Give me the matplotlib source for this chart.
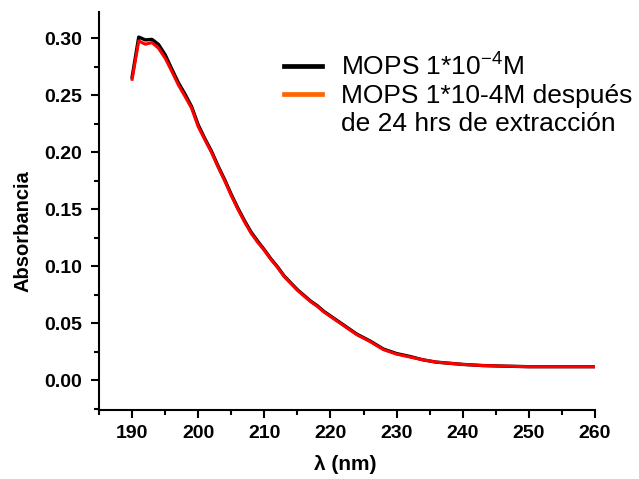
import matplotlib
matplotlib.use("Agg")
import matplotlib.pyplot as plt
from matplotlib.lines import Line2D
from matplotlib.ticker import MultipleLocator

# wavelength (nm)
wl = [190, 191, 192, 193, 194, 195, 196, 197, 198, 199, 200, 201, 202, 203,
      204, 205, 206, 207, 208, 209, 210, 211, 212, 213, 214, 215, 216, 217,
      218, 219, 220, 221, 222, 223, 224, 226, 228, 230, 232, 234, 236, 238,
      240, 243, 246, 250, 255, 260]

# MOPS 1e-4 M
abs_mops = [0.266, 0.301, 0.2985, 0.299, 0.2945, 0.2855, 0.273, 0.261, 0.251,
            0.240, 0.224, 0.212, 0.201, 0.188, 0.176, 0.163, 0.151, 0.140,
            0.130, 0.122, 0.1145, 0.1065, 0.0995, 0.0915, 0.0855, 0.0795,
            0.0745, 0.0695, 0.0655, 0.0605, 0.0565, 0.0525, 0.0485, 0.0445,
            0.0405, 0.0345, 0.0275, 0.0235, 0.021, 0.018, 0.016, 0.015,
            0.014, 0.013, 0.0125, 0.012, 0.012, 0.012]

# MOPS 1e-4 M after 24 h extraction
abs_ext = [0.264, 0.2976, 0.2947, 0.2962, 0.2912, 0.2825, 0.271, 0.259, 0.249,
           0.2386, 0.2225, 0.211, 0.200, 0.187, 0.175, 0.162, 0.150, 0.139,
           0.129, 0.121, 0.114, 0.106, 0.099, 0.091, 0.085, 0.079, 0.074,
           0.069, 0.065, 0.060, 0.056, 0.052, 0.048, 0.044, 0.040, 0.034,
           0.027, 0.023, 0.0205, 0.018, 0.016, 0.015, 0.014, 0.013, 0.0125,
           0.012, 0.012, 0.012]

plt.rcParams["font.family"] = ["Liberation Sans", "DejaVu Sans"]

fig = plt.figure(figsize=(6.39, 4.79), dpi=100)
ax = fig.add_axes([0.155, 0.144, 0.776, 0.831])

ax.plot(wl, abs_mops, color="black", linewidth=2.4)
ax.plot(wl, abs_ext, color="red", linewidth=2.2)

ax.set_xlim(185, 260)
ax.set_ylim(-0.026, 0.323)
ax.xaxis.set_minor_locator(MultipleLocator(5))
ax.yaxis.set_minor_locator(MultipleLocator(0.025))
ax.set_xticks(range(190, 261, 10))
ax.set_yticks([0.0, 0.05, 0.10, 0.15, 0.20, 0.25, 0.30])
ax.set_yticklabels(["0.00", "0.05", "0.10", "0.15", "0.20", "0.25", "0.30"])

for s in ["top", "right"]:
    ax.spines[s].set_visible(False)
for s in ["left", "bottom"]:
    ax.spines[s].set_linewidth(1.5)

ax.tick_params(which="major", direction="out", length=6, width=1.5,
               labelsize=14, pad=5)
ax.tick_params(axis="y", which="major", pad=6)
ax.tick_params(which="minor", direction="out", length=3.5, width=1.5)
for lab in ax.get_xticklabels() + ax.get_yticklabels():
    lab.set_fontweight("bold")

ax.set_xlabel("λ (nm)", fontsize=15, fontweight="bold")
ax.xaxis.set_label_coords(0.497, -0.114)
ax.set_ylabel("Absorbancia", fontsize=14.5, fontweight="bold")
ax.yaxis.set_label_coords(-0.135, 0.45)

# legend: second entry wraps onto a third row without a handle
handles = [Line2D([], [], color="black", linewidth=3.4),
           Line2D([], [], color="#FF6600", linewidth=3.4),
           Line2D([], [], color="none")]
labels = ["MOPS 1*10$^{\\mathregular{-4}}$M",
          "MOPS 1*10-4M después",
          "de 24 hrs de extracción"]
ax.legend(handles, labels, loc="upper left",
          bbox_to_anchor=(284 / 639, 1 - 52 / 479),
          bbox_transform=fig.transFigure, borderpad=0, borderaxespad=0,
          frameon=False, fontsize=19, handlelength=1.45, handletextpad=0.7,
          labelspacing=0.16)

fig.savefig("out.png", dpi=100)
